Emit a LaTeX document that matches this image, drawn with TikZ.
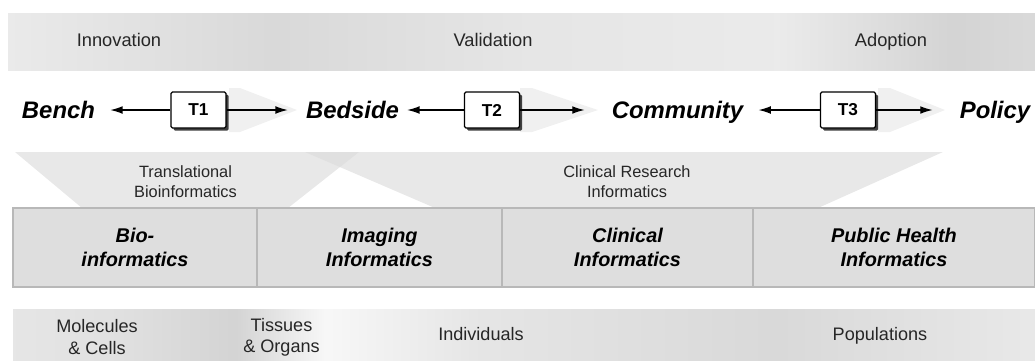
\documentclass[tikz,border=0pt]{standalone}
\usepackage{fontspec}
\setmainfont{Liberation Sans}
\usepackage{xcolor}
\usepackage{tikz}
\usetikzlibrary{arrows.meta,shadows}
\pgfdeclarehorizontalshading{topshade}{100bp}{color(0bp)=(black!21); color(12bp)=(black!15); color(24.5bp)=(black!8); color(38bp)=(black!15); color(50bp)=(black!10); color(62.5bp)=(black!8); color(71bp)=(black!17); color(87bp)=(black!8); color(100bp)=(black!21)}
\pgfdeclarehorizontalshading{bottomshade}{100bp}{color(0bp)=(black!22); color(5.6bp)=(black!15); color(16.3bp)=(black!17); color(20.3bp)=(black!8); color(30bp)=(black!12); color(35.9bp)=(black!17); color(40.3bp)=(black!3); color(47.7bp)=(black!10); color(62.3bp)=(black!15); color(82.9bp)=(black!5); color(100bp)=(black!20)}
\tikzstyle{stage} = [text=black!85, text height=0.72em, text depth=0.22em, font=\fontsize{10.4}{12}\selectfont]
\tikzstyle{site} = [inner sep=0pt, text height=9.7pt, text depth=0pt, font=\fontsize{13.6}{16}\selectfont\bfseries\itshape]
\tikzstyle{tbox} = [rectangle, draw=black, line width=0.7pt, fill=white, rounded corners=0.8pt, minimum width=1.1cm, minimum height=0.72cm, font=\fontsize{9.8}{11}\selectfont\bfseries, general shadow={fill=black!75, shadow xshift=1.5pt, shadow yshift=-1.5pt}]
\tikzstyle{arrow} = [-{Latex[length=7pt,width=4.4pt]}, line width=0.7pt]
\tikzstyle{wedge} = [fill=black!6]
\tikzstyle{trap} = [fill=black!9]
\tikzstyle{traplabel} = [text=black!85, align=center, font=\fontsize{9.3}{11.3}\selectfont]
\tikzstyle{infobox} = [rectangle, draw=black!28, line width=0.9pt, fill=black!13, minimum height=1.58cm, align=center, font=\fontsize{11.3}{14}\selectfont\bfseries\itshape]
\tikzstyle{levellabel} = [text=black!85, align=center, font=\fontsize{10.3}{12}\selectfont]

\begin{document}
\begin{tikzpicture}[x=0.02cm, y=-0.02cm]
\useasboundingbox (0,0) rectangle (1035,360);
\shade[shading=topshade] (8,13) rectangle (1035,70);
\node[stage] (innovation) at (119,42) {Innovation};
\node[stage] (validation) at (493,42) {Validation};
\node[stage] (adoption) at (891,42) {Adoption};

\fill[wedge] (229,88) -- (240,88) -- (297,110) -- (240,132) -- (229,132) -- cycle;
\fill[wedge] (520,88) -- (532,88) -- (598,110) -- (532,132) -- (520,132) -- cycle;
\fill[wedge] (878,88) -- (890,88) -- (945,110) -- (890,132) -- (878,132) -- cycle;
\node[site] (bench) at (58.5,110) {Bench};
\node[site] (bedside) at (352.5,110) {Bedside};
\node[site] (community) at (677.5,110) {Community};
\node[site] (policy) at (995,110) {Policy};
\node[tbox] (t1) at (198.5,110) {T1};
\node[tbox] (t2) at (492,110) {T2};
\node[tbox] (t3) at (848,110) {T3};
\draw[arrow, shorten >=8.5pt] (t1) -- (bench);
\draw[arrow, shorten >=10.2pt] (t1) -- (bedside);
\draw[arrow, shorten >=4.5pt] (t2) -- (bedside);
\draw[arrow, shorten >=15.3pt] (t2) -- (community);
\draw[arrow, shorten >=8.5pt] (t3) -- (community);
\draw[arrow, shorten >=15.3pt] (t3) -- (policy);

\fill[trap] (15,152) -- (359,152) -- (288,208) -- (82,208) -- cycle;
\fill[trap] (305,152) -- (943,152) -- (818,208) -- (435,208) -- cycle;
\fill[black!12] (305,152) -- (359,152) -- (340,167) -- cycle;
\node[traplabel] (translational) at (185.5,182) {Translational\\Bioinformatics};
\node[traplabel] (clinresearch) at (627,182) {Clinical Research\\Informatics};

\node[infobox, minimum width=4.88cm] (bio) at (135,247.5) {Bio-\\informatics};
\node[infobox, minimum width=4.90cm] (imaging) at (379.5,247.5) {Imaging\\Informatics};
\node[infobox, minimum width=5.02cm] (clinical) at (627.5,247.5) {Clinical\\Informatics};
\node[infobox, minimum width=5.64cm] (publichealth) at (894,247.5) {Public Health\\Informatics};

\shade[shading=bottomshade] (13,309) rectangle (1035,360);
\node[levellabel] (molecules) at (97,337) {Molecules\\\& Cells};
\node[levellabel] (tissues) at (281.5,337) {Tissues\\\& Organs};
\node[levellabel, text height=0.72em, text depth=0.22em] (individuals) at (481,336) {Individuals};
\node[levellabel, text height=0.72em, text depth=0.22em] (populations) at (880,336) {Populations};
\end{tikzpicture}
\end{document}
